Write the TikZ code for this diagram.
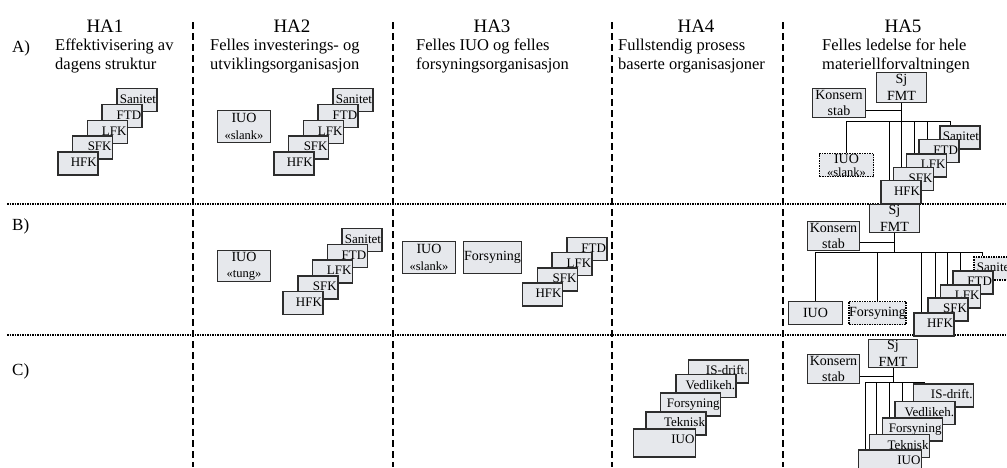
\documentclass[tikz,border=0pt]{standalone}
\usepackage{fontspec}
\setmainfont{Liberation Serif}
\definecolor{boxfill}{RGB}{230,232,236}
\definecolor{boxline}{RGB}{45,45,45}

\begin{document}
\begin{tikzpicture}[x=1pt,y=-1pt,
    box/.style={draw=boxline,fill=boxfill,line width=1.5pt,inner ysep=0pt},
    unit/.style={box,minimum height=23pt,text width=38pt,align=right,inner xsep=1pt,
      text height=9.5pt,text depth=3pt,font=\fontsize{13}{16}\selectfont},
    wideunit/.style={unit,text width=58pt},
    tallunit/.style={wideunit,minimum height=28pt,text depth=8pt},
    block/.style={box,align=center,inner xsep=0pt,font=\fontsize{14}{16.5}\selectfont},
    planned/.style={draw=black,densely dotted},
    link/.style={line width=1pt},
    colline/.style={line width=2pt,dash pattern=on 7pt off 4pt},
    rowline/.style={line width=1.5pt,densely dotted},
    head/.style={font=\fontsize{19}{19}\selectfont,anchor=base,inner sep=0pt},
    sub/.style={font=\fontsize{16.5}{19}\selectfont,align=left,anchor=north west,inner sep=0pt},
    rowlabel/.style={font=\fontsize{17}{17}\selectfont,anchor=base west,inner sep=0pt}]
\useasboundingbox (0,0) rectangle (1007,467);

% grid
\foreach \x in {193,393,612,783}
  \draw[colline] (\x,22) -- (\x,467);
\foreach \y in {204,335}
  \draw[rowline] (7,\y) -- (1007,\y);

% column heads
\node[head] (ha1) at (105,32) {HA1};
\node[head] (ha2) at (292,32) {HA2};
\node[head] (ha3) at (492,32) {HA3};
\node[head] (ha4) at (696,32) {HA4};
\node[head] (ha5) at (903,32) {HA5};
\node[sub] (txt1) at (55,39) {Effektivisering av\\dagens struktur};
\node[sub] (txt2) at (210,39) {Felles investerings- og\\utviklingsorganisasjon};
\node[sub] (txt3) at (416,39) {Felles IUO og felles\\forsyningsorganisasjon};
\node[sub] (txt4) at (618,39) {Fullstendig prosess\\baserte organisasjoner};
\node[sub] (txt5) at (822,39) {Felles ledelse for hele\\materiellforvaltningen};

\node[rowlabel] (rowA) at (12,52) {A)};
\node[rowlabel] (rowB) at (12,230) {B)};
\node[rowlabel] (rowC) at (12,375) {C)};

% HA1 - HA3
\foreach \t [count=\i from 0] in {Sanitet,FTD,LFK,SFK,HFK}
  \node[unit] (a1\t) at (137-14.8*\i,100+15.9*\i) {\t};

\node[block,minimum width=53pt,minimum height=32pt] (a2iuo) at (244,126.5)
  {IUO\\{\fontsize{12.5}{14}\selectfont «slank»}};
\foreach \t [count=\i from 0] in {Sanitet,FTD,LFK,SFK,HFK}
  \node[unit] (a2\t) at (353-14.8*\i,100+15.9*\i) {\t};

\node[block,minimum width=53pt,minimum height=31pt] (b2iuo) at (244,266)
  {IUO\\{\fontsize{12.5}{14}\selectfont «tung»}};
\foreach \t [count=\i from 0] in {Sanitet,FTD,LFK,SFK,HFK}
  \node[unit] (b2\t) at (362-14.75*\i,240+15.75*\i) {\t};

\node[block,minimum width=53pt,minimum height=32pt] (b3iuo) at (429,257.5)
  {IUO\\{\fontsize{12.5}{14}\selectfont «slank»}};
\node[block,minimum width=58pt,minimum height=32pt] (b3for) at (492.5,257.5) {Forsyning};
\foreach \t [count=\i from 0] in {FTD,LFK,SFK,HFK}
  \node[unit] (b3\t) at (587-14.8*\i,249+15.2*\i) {\t};

% HA4
\node[wideunit] (c4isd) at (718.5,371.5) {IS-drift.};
\node[wideunit] (c4ved) at (706,386) {Vedlikeh.};
\node[wideunit] (c4for) at (690.5,404.5) {Forsyning};
\node[wideunit] (c4tek) at (676,423.5) {Teknisk};
\node[tallunit,text width=60pt] (c4iuo) at (664.5,443) {IUO};

% HA5, row A
\node[block,minimum width=50pt,minimum height=30pt] (a5sj) at (901.5,87.5) {Sj\\FMT};
\node[block,minimum width=53pt,minimum height=29pt] (a5kons) at (839,103) {Konsern\\stab};
\node[block,planned,minimum width=54pt,minimum height=23pt,font=\fontsize{14}{13}\selectfont]
  (a5iuo) at (846.5,165) {IUO\\{\fontsize{12.5}{13}\selectfont «slank»}};
\node[unit] (a5san) at (960,137.5) {Sanitet};
\node[unit] (a5ftd) at (939,151) {FTD};
\node[unit] (a5lfk) at (926.5,165.5) {LFK};
\node[unit] (a5sfk) at (913.5,179) {SFK};
\node[unit] (a5hfk) at (901,192) {HFK};

\coordinate (busA) at (848,121);
\draw[link] ([yshift=-7pt]a5kons.east) -- ([yshift=-7pt]a5kons.east -| a5sj.south);
\draw[link] (a5sj.south) -- (a5sj.south |- busA);
\draw[link] (a5iuo.north) |- ([xshift=11pt]a5san.north west |- busA) -- ([xshift=11pt]a5san.north west);
\foreach \b in {a5hfk,a5sfk,a5lfk,a5ftd}
  \draw[link] ([xshift=9pt]\b.north west) -- ([xshift=9pt]\b.north west |- busA);

% HA5, row B
\node[block,minimum width=50pt,minimum height=28pt] (b5sj) at (894.5,218.5) {Sj\\FMT};
\node[block,minimum width=52pt,minimum height=29pt] (b5kons) at (833.5,236) {Konsern\\stab};
\node[block,minimum width=54pt,minimum height=23pt] (b5iuo) at (815.5,313) {IUO};
\node[block,planned,minimum width=54pt,minimum height=23pt] (b5for) at (877.5,313) {Forsyning};
\node[unit,planned] (b5san) at (994,268.5) {Sanitet};
\node[unit] (b5ftd) at (973,282.5) {FTD};
\node[unit] (b5lfk) at (960.5,296.5) {LFK};
\node[unit] (b5sfk) at (948,309.5) {SFK};
\node[unit] (b5hfk) at (934,324.5) {HFK};

\coordinate (busB) at (815,252);
\draw[link] ([yshift=-6pt]b5kons.east) -- ([yshift=-6pt]b5kons.east -| b5sj.south);
\draw[link] (b5sj.south) -- (b5sj.south |- busB);
\draw[link] (b5iuo.north) |- ([xshift=9pt]b5san.north west |- busB) -- ([xshift=9pt]b5san.north west);
\draw[link] (b5for.north) -- (b5for.north |- busB);
\foreach \b in {b5hfk,b5sfk,b5lfk,b5ftd}
  \draw[link] ([xshift=8pt]\b.north west) -- ([xshift=8pt]\b.north west |- busB);

% HA5, row C
\node[block,minimum width=49pt,minimum height=28pt] (c5sj) at (893,353.5) {Sj\\FMT};
\node[block,minimum width=52pt,minimum height=29pt] (c5kons) at (833.5,369) {Konsern\\stab};
\node[wideunit] (c5isd) at (943.5,395.5) {IS-drift.};
\node[wideunit] (c5ved) at (925,413) {Vedlikeh.};
\node[wideunit] (c5for) at (912.5,429.5) {Forsyning};
\node[wideunit] (c5tek) at (899.5,446) {Teknisk};
\node[tallunit,text width=61pt] (c5iuo) at (890,464) {IUO};

\coordinate (busC) at (866,382);
\draw[link] ([yshift=-7pt]c5kons.east) -- ([yshift=-7pt]c5kons.east -| c5sj.south);
\draw[link] (c5sj.south) -- (c5sj.south |- busC);
\draw[link] ([xshift=8pt]c5iuo.north west) |- ([xshift=12pt]c5isd.north west |- busC) -- ([xshift=12pt]c5isd.north west);
\foreach \b in {c5tek,c5for,c5ved}
  \draw[link] ([xshift=8pt]\b.north west) -- ([xshift=8pt]\b.north west |- busC);
\end{tikzpicture}
\end{document}
